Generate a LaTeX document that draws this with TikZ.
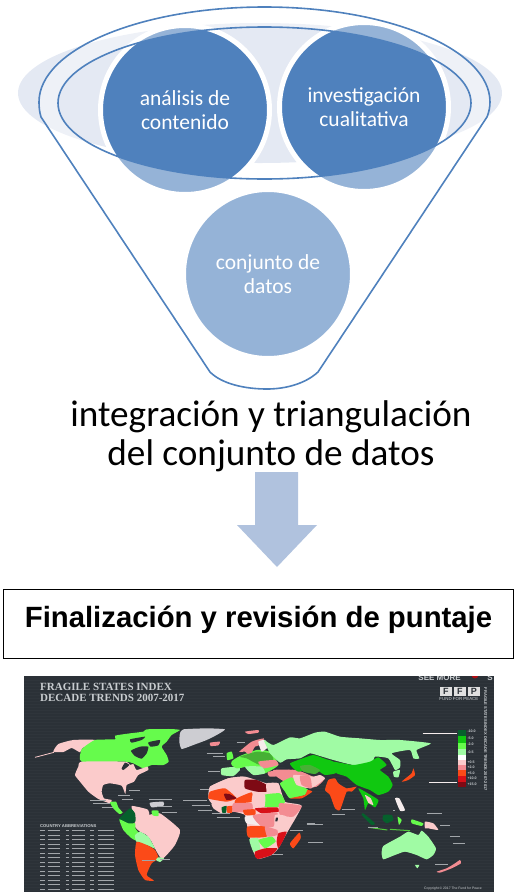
\documentclass[tikz,border=0pt]{standalone}
\usepackage{fontspec}
\setmainfont{Carlito}
\newfontfamily\arialf{Liberation Sans}
\newfontfamily\serifb{Liberation Serif}
\definecolor{fblue}{HTML}{4F81BD}
\definecolor{pale}{HTML}{E4E9F3}
\definecolor{arrowc}{HTML}{B0C2DE}
\definecolor{mapbg}{HTML}{2B3137}
\definecolor{mpink}{HTML}{FBCBCB}
\definecolor{mrose}{HTML}{F38C92}
\definecolor{mgreen}{HTML}{66FB4C}
\definecolor{mlight}{HTML}{A0FBA4}
\definecolor{mdeep}{HTML}{10C810}
\definecolor{mdark}{HTML}{06602C}
\definecolor{morange}{HTML}{FB4A18}
\definecolor{mred}{HTML}{D81018}
\definecolor{mmaroon}{HTML}{7E0A14}
\definecolor{mgrey}{HTML}{CDCDD2}
\definecolor{mwhite}{HTML}{F5ECEC}
\definecolor{mlabel}{HTML}{C9CDD0}
\newcommand\mapshape[2]{\fill[#1] plot[smooth cycle,tension=.3] coordinates {#2};}
\tikzset{
  bubble/.style={circle,fill=fblue,draw=white,line width=5pt,minimum size=169pt,inner sep=0pt,
    text=white,align=center,font=\fontsize{21.5}{24}\selectfont},
  funnelline/.style={draw=fblue,line width=1.6pt},
  maplabel/.style={draw=mlabel!75!mapbg,line width=.7pt},
  tinytext/.style={text=mlabel,inner sep=0pt,font=\arialf\bfseries\fontsize{3.6}{4}\selectfont},
  tile/.style={fill=white!88!black,inner sep=0pt,minimum width=12pt,minimum height=9pt,text=mapbg,
    font=\arialf\bfseries\fontsize{9}{9}\selectfont}
}
\begin{document}
\begin{tikzpicture}[x=1pt,y=-1pt]
\useasboundingbox (0,0) rectangle (516,892);
% pale back ellipse
\fill[pale] (260,93) ellipse [x radius=242pt,y radius=70pt];
% circles
\node[bubble] (analisis) at (185,110) {análisis de\\contenido};
\node[bubble] (investigacion) at (364,107) {investigación\\cualitativa};
\node[bubble] (conjunto) at (268,274) {conjunto de\\datos};
% funnel veil with opening
\fill[white,fill opacity=.4,even odd rule]
  (41,117) .. controls (39.5,112) and (39,107) .. (39,102)
  .. controls (39,49.5) and (140,7) .. (264.5,7)
  .. controls (389,7) and (490,49.5) .. (490,102)
  .. controls (490,107) and (489,112) .. (487,117)
  -- (318,372) .. controls (305,384) and (285,389) .. (267,389)
  .. controls (245,389) and (222,384) .. (210,372) -- cycle
  (264.5,103) ellipse [x radius=206.5pt,y radius=76pt];
\draw[funnelline]
  (41,117) .. controls (39.5,112) and (39,107) .. (39,102)
  .. controls (39,49.5) and (140,7) .. (264.5,7)
  .. controls (389,7) and (490,49.5) .. (490,102)
  .. controls (490,107) and (489,112) .. (487,117)
  -- (318,372) .. controls (305,384) and (285,389) .. (267,389)
  .. controls (245,389) and (222,384) .. (210,372) -- cycle;
\draw[funnelline] (264.5,103) ellipse [x radius=206.5pt,y radius=76pt];
\node[align=center,text=black,font=\fontsize{37.2}{39}\selectfont] (caption) at (271,436) {integración y triangulación\\del conjunto de datos};
% arrow
\fill[arrowc] (255,472) -- (298,472) -- (298,525) -- (317,525) -- (277,567) -- (237,525) -- (255,525) -- cycle;
% box
\node[draw=black,line width=1pt,minimum width=510pt,minimum height=69pt,inner sep=0pt,
  font=\arialf\bfseries\fontsize{29.3}{32}\selectfont] (finalizacion) at (258.5,624) {\raisebox{-3pt}[0pt][0pt]{Finalización y revisión de puntaje}};
% map
\begin{scope}
\clip (24,676) rectangle (494,892);
\fill[mapbg] (24,676) rectangle (494,892);
\foreach \yy in {680,683,...,890} {\draw[white,opacity=.025,line width=.6pt] (24,\yy) -- (494,\yy);}
% --- North America, coordinates of zoom (30,720)
\begin{scope}[shift={(30,720)},x=.3333pt,y=-.3333pt]
\mapshape{mpink}{(70,95) (85,72) (130,60) (195,60) (157,85) (150,97) (125,84) (100,96)}
\draw[mpink,line width=.8pt] (15,112) -- (72,97);
\mapshape{mgreen}{(195,60) (255,58) (255,47) (300,40) (340,35) (350,28) (420,27) (450,30) (425,45) (410,65) (395,80) (410,105) (416,125) (400,135) (365,135) (340,145) (310,130) (285,125) (155,125) (155,88)}
\mapshape{mapbg}{(303,92) (330,80) (355,80) (350,100) (335,116) (315,108)}
\mapshape{mapbg}{(355,67) (390,60) (385,76) (362,80)}
\mapshape{mapbg}{(300,58) (345,50) (335,60) (305,68)}
\mapshape{mpink}{(155,125) (285,125) (300,135) (310,132) (320,150) (352,140) (355,150) (325,165) (312,185) (290,195) (286,222) (275,197) (240,190) (220,195) (215,215) (222,235) (245,240) (240,250) (205,237) (175,215) (150,185) (135,165) (145,140)}
\mapshape{mapbg}{(285,128) (298,135) (280,150) (275,145)}
\mapshape{mgreen}{(240,247) (258,245) (265,262) (278,278) (268,282) (250,265)}
\mapshape{mgrey}{(360,248) (400,245) (400,258) (365,262)}
\foreach \xa/\ya/\xb in {298/210/330,180/240/228,190/250/240,215/262/250,265/225/300,275/238/310,358/238/425,380/260/425,395/278/440,460/240/500,485/255/510}
  {\draw[maplabel] (\xa,\ya) -- (\xb,\ya);}
\end{scope}
% --- South America
\begin{scope}[shift={(20,780)},x=.3333pt,y=-.3333pt]
\mapshape{mpink}{(345,105) (385,105) (420,100) (480,150) (465,195) (440,225) (425,237) (410,215) (395,185) (380,165) (360,155) (345,140)}
\mapshape{mpink}{(335,78) (382,88) (387,106) (345,106)}
\mapshape{mdark}{(298,115) (330,85) (345,100) (346,125) (325,132) (300,122)}
\mapshape{mgreen}{(298,118) (325,130) (346,130) (346,145) (360,165) (360,186) (335,175) (310,150)}
\mapshape{mlight}{(345,166) (360,155) (385,170) (397,190) (405,206) (385,197) (350,186)}
\mapshape{morange}{(350,185) (385,197) (405,210) (416,235) (395,250) (380,285) (402,302) (375,300) (355,270) (345,225)}
\mapshape{mlight}{(414,232) (432,235) (420,246) (408,240)}
\mapshape{mgreen}{(395,92) (415,92) (415,108) (398,106)}
\draw[maplabel] (365,240) -- (405,240);
\draw[maplabel] (420,238) -- (450,238);
\end{scope}
% --- Greenland and bits, coordinates of full map zoom (20,670)
\begin{scope}[shift={(20,670)},x=.3333pt,y=-.3333pt]
\mapshape{mgrey}{(480,190) (490,178) (560,175) (615,178) (590,195) (560,210) (520,225) (485,237) (478,215)}
% title
\node[anchor=west,inner sep=0pt,text=mlabel,font=\serifb\bfseries\fontsize{11}{12}\selectfont] (title1) at (60,50) {FRAGILE STATES INDEX};
\node[anchor=west,inner sep=0pt,text=mlabel,font=\serifb\bfseries\fontsize{11}{12}\selectfont] (title2) at (60,85) {DECADE TRENDS 2007-2017};
\node[anchor=west,inner sep=0pt,text=mlabel,font=\arialf\bfseries\fontsize{8}{9}\selectfont] (seemore) at (1195,22) {SEE MORE};
\fill[mred!80!black] (1365,15) circle [radius=3.5pt];
\node[inner sep=0pt,text=mlabel,font=\arialf\bfseries\fontsize{8}{9}\selectfont] (seemores) at (1410,22) {S};
\node[tile] (ffpa) at (1278,65) {F};
\node[tile] (ffpb) at (1320,65) {F};
\node[tile] (ffpc) at (1362,65) {P};
\node[anchor=west,inner sep=0pt,text=mlabel,font=\arialf\fontsize{4.4}{5}\selectfont] (fund) at (1258,88) {FUND FOR PEACE};
\node[rotate=-90,tinytext,font=\arialf\bfseries\fontsize{4}{5}\selectfont] (sidetitle) at (1397,208) {FRAGILE STATES INDEX DECADE TRENDS 2007-2017};
% table
\node[anchor=west,tinytext,font=\arialf\bfseries\fontsize{4.2}{5}\selectfont] (abbr) at (60,468) {COUNTRY ABBREVIATIONS};
\foreach \yy in {482,495,508,522,535,549,562,576,589,603,616,630,643,657} {
  \draw[maplabel] (60,\yy) -- (75,\yy) (83,\yy) -- (120,\yy);
  \draw[maplabel] (137,\yy) -- (148,\yy) (156,\yy) -- (196,\yy);
  \draw[maplabel] (210,\yy) -- (222,\yy) (235,\yy) -- (282,\yy);
}
\node[anchor=west,tinytext,font=\arialf\fontsize{3.4}{4}\selectfont] (copyr) at (1212,655) {Copyright © 2017 The Fund for Peace};
\end{scope}
% --- Europe, Africa, Middle East, coordinates of zoom (190,720)
\begin{scope}[shift={(190,720)},x=.3333pt,y=-.3333pt]
\mapshape{mpink}{(60,200) (115,175) (165,170) (230,190) (265,190) (285,245) (335,258) (290,340) (265,385) (245,405) (205,417) (190,395) (172,320) (165,285) (130,275) (95,280) (65,250) (55,235)}
\mapshape{mgreen}{(125,125) (150,108) (200,90) (240,95) (265,135) (225,160) (190,160) (165,140)}
\mapshape{mrose}{(250,150) (320,150) (370,170) (405,175) (380,200) (340,205) (310,215) (290,190) (260,170)}
\mapshape{mrose}{(165,35) (205,30) (205,38) (175,42)}
\mapshape{mrose}{(60,68) (90,65) (85,76) (62,78)}
\mapshape{mrose}{(148,95) (185,65) (222,55) (210,75) (195,80) (180,105) (165,95)}
\mapshape{mwhite}{(205,65) (225,60) (235,80) (215,95)}
\mapshape{mgreen}{(110,100) (125,95) (130,115) (112,120)}
\mapshape{mlight}{(95,145) (145,140) (150,150) (130,168) (95,165)}
\mapshape{mgreen}{(125,125) (160,115) (165,140) (140,145) (125,135)}
\mapshape{mgreen!70!black}{(150,110) (200,95) (240,100) (250,120) (210,135) (170,115)}
\mapshape{mrose}{(205,125) (255,120) (265,135) (220,145)}
\mapshape{mlight}{(165,140) (215,140) (225,160) (190,165)}
\mapshape{mrose}{(235,155) (300,150) (300,165) (240,170)}
\mapshape{mapbg}{(280,125) (310,130) (305,148) (285,142)}
% Africa
\mapshape{mpink}{(60,200) (115,175) (160,170) (165,185) (165,215) (120,205) (100,205) (60,215)}
\mapshape{mmaroon}{(165,180) (200,180) (230,195) (230,215) (200,215) (165,205)}
\mapshape{mpink}{(230,190) (265,190) (270,220) (232,220)}
\mapshape{mgreen}{(222,225) (270,220) (285,245) (270,260) (222,260)}
\mapshape{morange}{(60,215) (105,205) (140,235) (110,245) (75,240) (55,235)}
\mapshape{mmaroon}{(102,222) (118,222) (140,235) (110,240)}
\mapshape{morange}{(140,235) (185,217) (188,245) (135,250)}
\mapshape{mpink}{(190,217) (225,225) (222,265) (185,265)}
\mapshape{mpink}{(65,250) (100,250) (130,255) (125,275) (95,280) (70,265)}
\mapshape{mdark}{(95,262) (110,258) (108,278) (97,278)}
\mapshape{morange}{(110,260) (128,258) (126,278) (112,278)}
\mapshape{mrose}{(130,250) (185,250) (185,275) (130,275)}
\mapshape{morange}{(160,270) (195,268) (195,285) (165,285)}
\mapshape{mred}{(195,265) (262,262) (266,275) (215,280)}
\mapshape{mrose}{(268,250) (335,258) (310,290) (270,285)}
\mapshape{mwhite}{(165,290) (215,285) (215,315) (170,310)}
\mapshape{mrose}{(190,285) (262,278) (250,320) (215,320) (195,300)}
\mapshape{mpink}{(255,285) (290,290) (290,340) (255,330)}
\mapshape{mapbg}{(258,293) (264,293) (262,304) (256,304)}
\mapshape{morange}{(172,320) (225,320) (230,350) (175,352)}
\mapshape{mrose}{(225,320) (262,330) (262,345) (232,350)}
\mapshape{mred}{(265,340) (290,335) (280,360) (265,385) (260,365)}
\mapshape{mlight}{(178,358) (205,355) (210,392) (190,395)}
\mapshape{mgreen}{(205,360) (245,350) (257,365) (225,385)}
\mapshape{mred}{(195,395) (225,385) (262,385) (245,405) (205,417) (195,410)}
\mapshape{morange}{(300,370) (328,338) (332,355) (310,385)}
% Arabia
\mapshape{mgreen}{(270,190) (305,172) (330,195) (355,210) (345,225) (300,235) (285,215)}
\mapshape{morange}{(300,235) (345,225) (352,210) (367,215) (335,235)}
\foreach \xa/\ya/\xb in {30/207/58,0/240/50,10/255/60,25/270/65,65/280/120,80/292/150,50/100/100,70/110/105,140/68/165,55/155/90,350/310/375,355/368/390,300/332/340,245/402/280}
  {\draw[maplabel] (\xa,\ya) -- (\xb,\ya);}
\end{scope}
% --- Asia, Oceania, legend, coordinates of zoom (300,720)
\begin{scope}[shift={(300,720)},x=.3333pt,y=-.3333pt]
\mapshape{mlight}{(-108,60) (-80,75) (-30,52) (0,55) (45,38) (75,35) (120,50) (180,55) (240,60) (300,60) (392,70) (350,90) (358,115) (340,115) (330,90) (275,100) (300,120) (300,142) (285,150) (265,115) (225,110) (215,130) (160,135) (100,120) (60,108) (30,100) (0,115) (-40,118) (-60,128) (-90,100) (-100,80)}
\mapshape{mdeep}{(-30,130) (0,118) (40,105) (80,118) (100,125) (110,158) (75,165) (50,150) (20,150) (-5,155) (-20,145)}
\mapshape{mgreen!70!black}{(0,138) (30,135) (60,150) (45,162) (10,155)}
\mapshape{mdeep}{(100,125) (160,135) (210,125) (235,112) (260,135) (240,150) (265,170) (278,195) (265,215) (235,225) (210,210) (170,195) (140,170) (110,160) (105,140)}
\mapshape{mpink}{(-20,165) (40,170) (60,165) (75,175) (50,195) (30,205) (-10,195)}
\mapshape{mrose}{(0,168) (30,170) (35,205) (5,195)}
\mapshape{morange}{(85,180) (105,175) (115,190) (140,205) (170,200) (155,215) (140,215) (120,270) (105,265) (90,225) (75,210)}
\mapshape{mdeep}{(175,205) (195,215) (235,240) (225,262) (205,250) (195,270) (190,235)}
\mapshape{mpink}{(195,225) (212,235) (220,255) (205,248)}
\mapshape{morange}{(305,185) (335,160) (340,145) (345,165) (325,180)}
\mapshape{mlight}{(280,155) (300,150) (295,172) (282,170)}
\mapshape{mwhite}{(285,235) (298,235) (315,270) (300,272)}
\mapshape{mdark}{(190,280) (225,310) (215,315) (185,285)}
\mapshape{mdark}{(250,285) (275,285) (280,300) (260,310) (248,300)}
\mapshape{mgreen}{(293,290) (305,300) (297,315)}
\draw[mgreen!80!black,line width=1pt] (205,322) -- (262,330) (270,328) -- (330,332);
\mapshape{mgreen}{(335,298) (370,310) (365,318) (335,310)}
\mapshape{mpink}{(375,305) (400,310) (415,330) (385,325) (375,325)}
\mapshape{mlight}{(250,378) (300,350) (325,335) (355,345) (365,332) (385,350) (408,385) (400,405) (380,418) (350,405) (315,395) (285,405) (250,418) (245,400)}
\mapshape{mlight}{(345,435) (358,435) (352,445)}
\mapshape{mrose}{(410,455) (440,445) (465,430) (480,420) (483,430) (455,445) (420,458)}
\foreach \xa/\ya/\xb in {125/268/165,95/283/135,380/280/425,420/315/450,450/350/480,460/370/495,405/432/445,205/322/235,20/312/68,25/367/70,280/272/285}
  {\draw[maplabel] (\xa,\ya) -- (\xb,\ya);}
% legend
\draw[mwhite,line width=1pt] (368,40) -- (472,40) (388,187) -- (472,187);
\fill[mdark] (475,30) rectangle (498,48);
\fill[mdeep] (475,48) rectangle (498,68);
\fill[mgreen] (475,68) rectangle (498,88);
\fill[mlight] (475,88) rectangle (498,104);
\fill[white] (475,104) rectangle (498,120);
\fill[mpink] (475,120) rectangle (498,136);
\fill[mrose] (475,136) rectangle (498,150);
\fill[morange] (475,150) rectangle (498,168);
\fill[mred] (475,168) rectangle (498,186);
\fill[mmaroon] (475,186) rectangle (498,200);
\node[anchor=west,tinytext] (la) at (502,35) {-10.0};
\node[anchor=west,tinytext] (lb) at (502,55) {-5.0};
\node[anchor=west,tinytext] (lc) at (502,74) {-2.0};
\node[anchor=west,tinytext] (ld) at (502,96) {-0.5};
\node[anchor=west,tinytext] (le) at (502,126) {+0.5};
\node[anchor=west,tinytext] (lf) at (502,143) {+2.0};
\node[anchor=west,tinytext] (lg) at (502,160) {+5.0};
\node[anchor=west,tinytext] (lh) at (502,175) {+10.0};
\node[anchor=west,tinytext] (li) at (502,192) {+15.0};
\end{scope}
\end{scope}
\end{tikzpicture}
\end{document}
